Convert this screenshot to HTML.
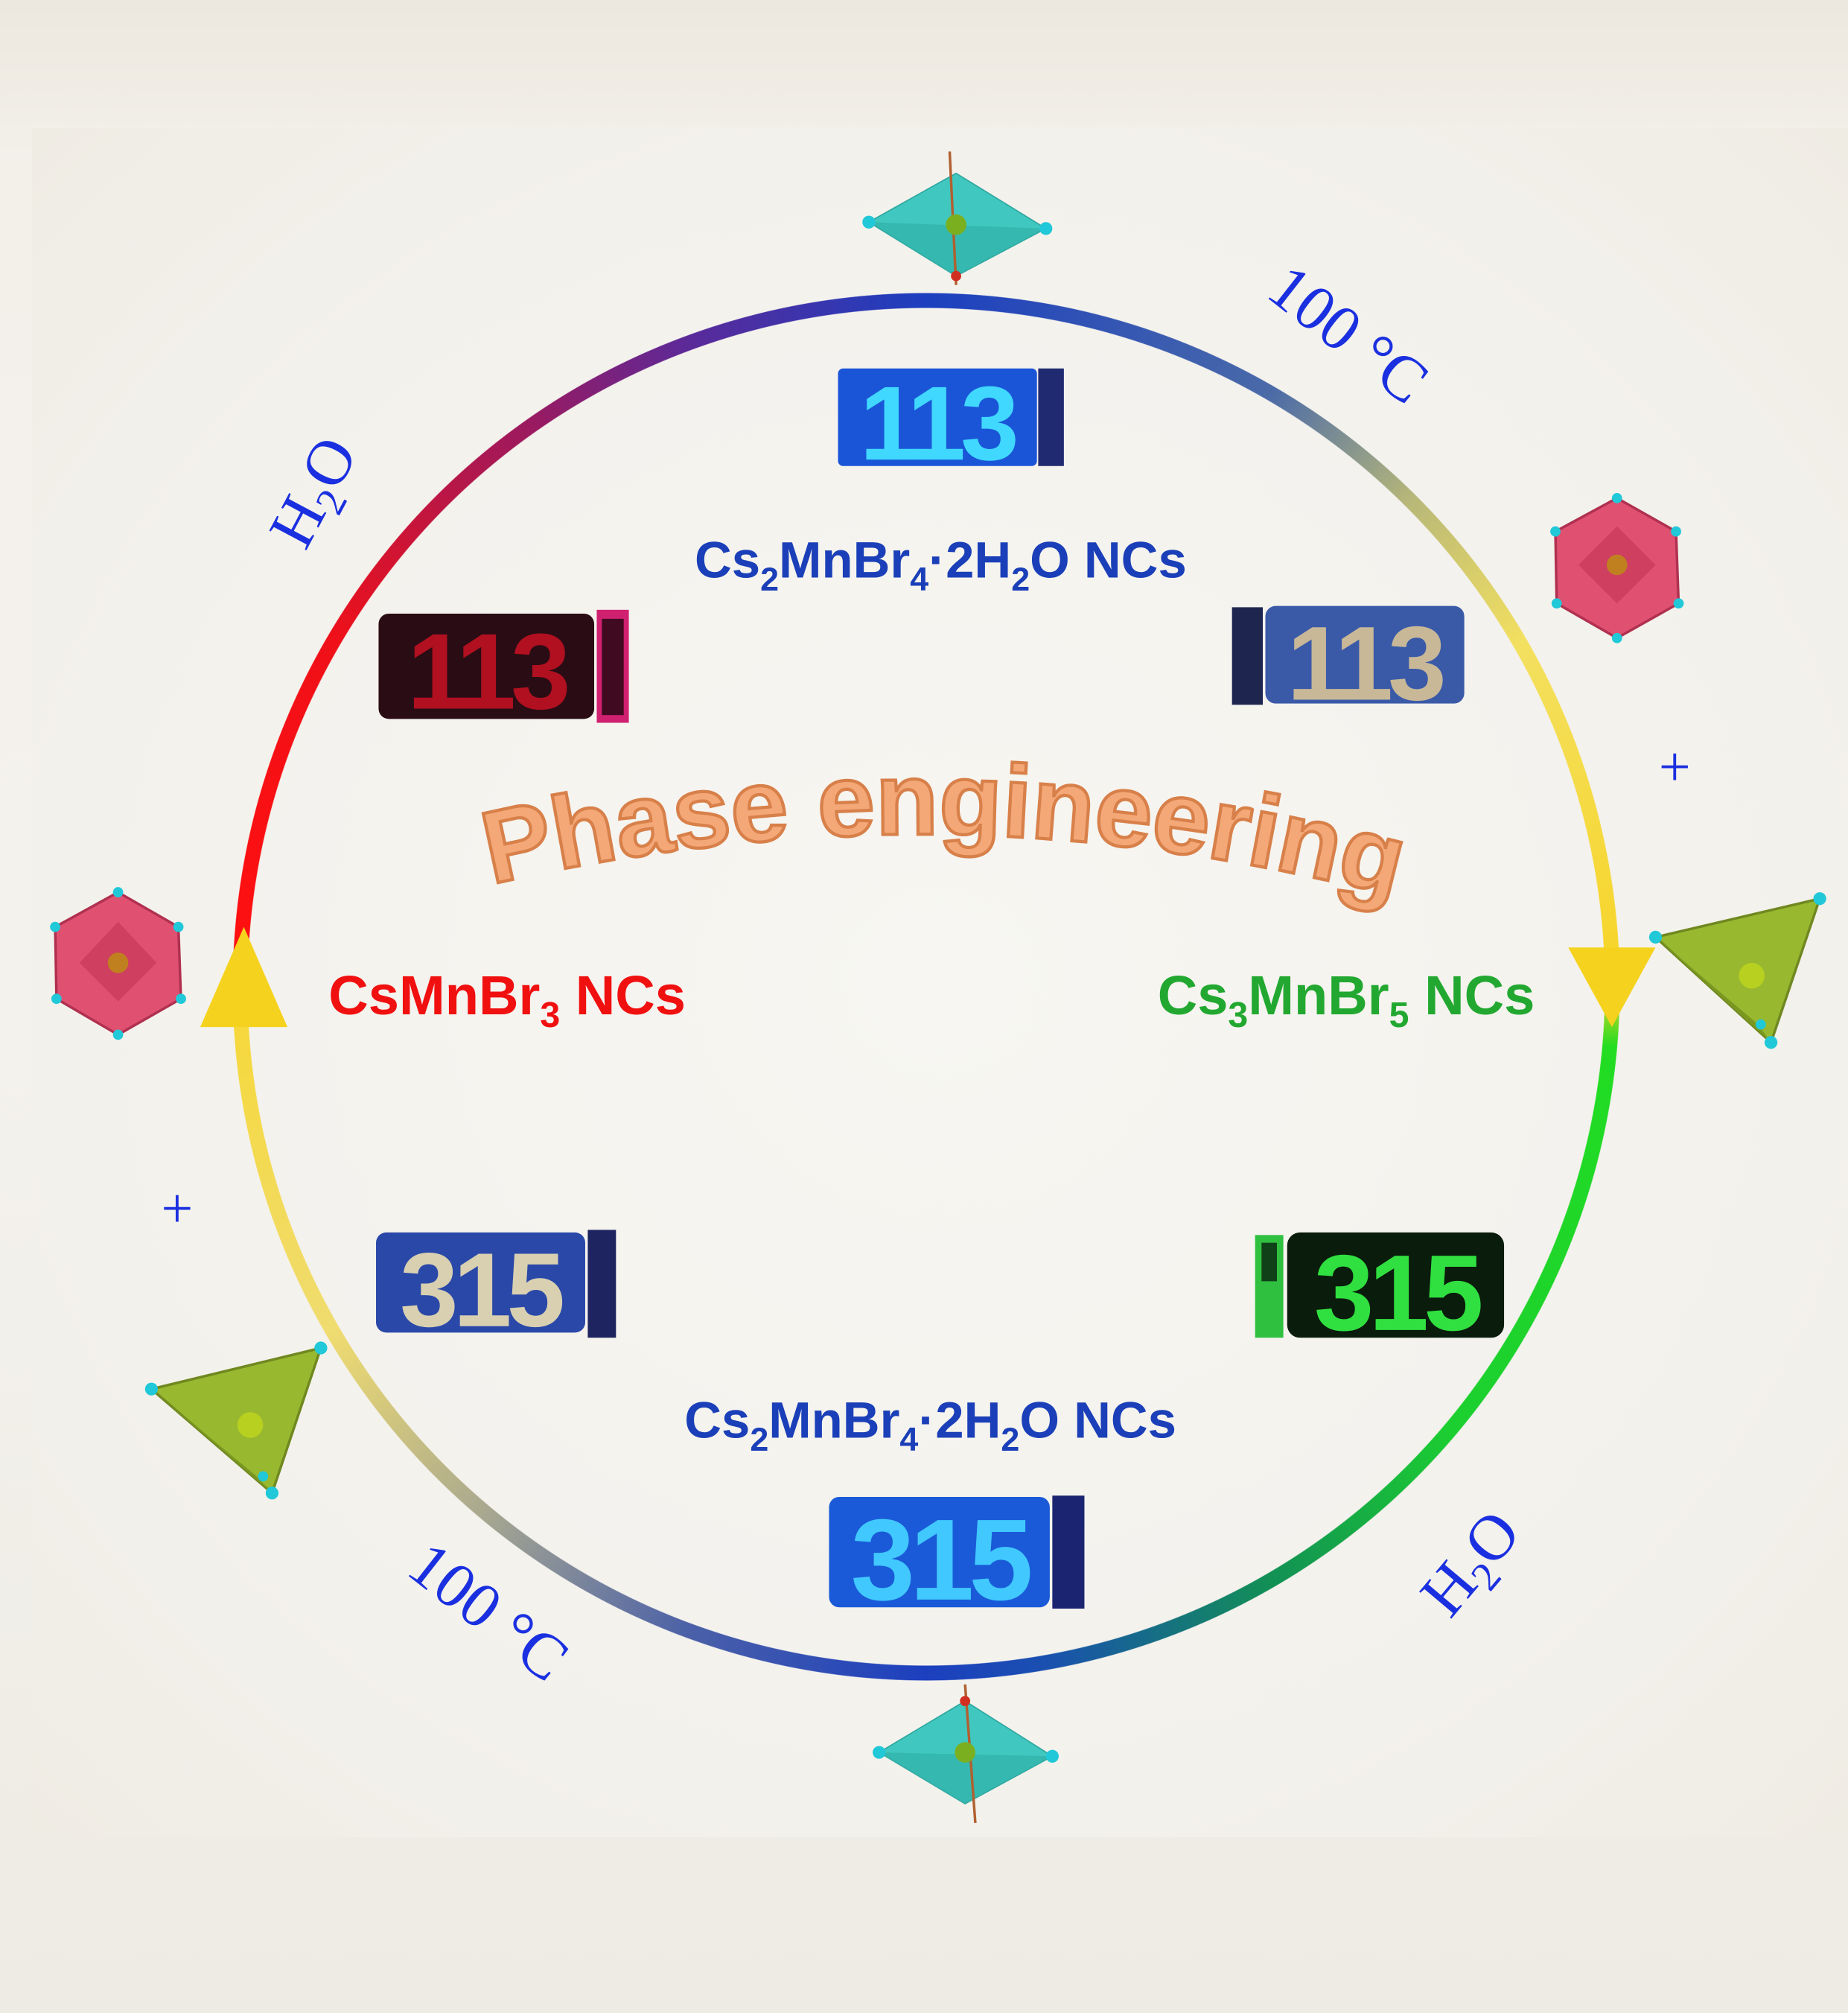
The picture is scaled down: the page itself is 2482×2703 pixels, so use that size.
<!DOCTYPE html>
<html><head><meta charset="utf-8"><style>
html,body{margin:0;padding:0}
body{width:2482px;height:2703px;position:relative;overflow:hidden;
background:linear-gradient(180deg,#ece8df 0%,#f3f0ea 8%,#f4f2ed 50%,#eeebe4 100%);}
#panel{position:absolute;left:43px;top:172px;width:2439px;height:2295px;
background:radial-gradient(ellipse at 50% 50%,#f7f6f2 0%,#f3f1ec 70%,#efece4 100%);}
#ring{position:absolute;left:312px;top:393px;width:1864px;height:1864px;border-radius:50%;
background:conic-gradient(from 0deg,#1c3fbf 0deg,#4a6aa8 30deg,#b8b878 45deg,#f3e060 60deg,#f7d426 90deg,#22dd22 95deg,#1ccf30 130deg,#129055 150deg,#1a50b0 170deg,#1c3fbf 180deg,#4a60a8 200deg,#a8a890 220deg,#f0dc70 240deg,#f6d83a 268deg,#ff1010 273deg,#f01018 300deg,#9a1a60 325deg,#5a2a9a 340deg,#1c3fbf 360deg);
-webkit-mask:radial-gradient(circle,transparent 911px,#000 912px,#000 931px,transparent 932px);
mask:radial-gradient(circle,transparent 911px,#000 912px,#000 931px,transparent 932px);}
svg{position:absolute;left:0;top:0}
</style></head><body>
<div id="panel"></div>
<div id="ring"></div>
<svg width="2482" height="2703" viewBox="0 0 1440 1568" preserveAspectRatio="none">
<polygon points="1222,738 1290,738 1256,800" fill="#f5d21e"/>
<polygon points="156,800 224,800 190,722" fill="#f5d21e"/>

<g font-family="Liberation Sans, sans-serif" font-weight="bold" text-anchor="middle">
<rect x="653" y="287" width="155" height="76" rx="4" fill="#1a55d8"/>
<text x="730" y="358" font-size="82" fill="#40d8ff" letter-spacing="-4">113</text>
<rect x="809" y="287" width="20" height="76" fill="#202a70"/>
<rect x="295" y="478" width="168" height="82" rx="8" fill="#2a0c14"/>
<text x="379" y="552" font-size="84" fill="#b01020" letter-spacing="-4">113</text>
<rect x="465" y="475" width="25" height="88" fill="#d02070"/>
<rect x="469" y="482" width="17" height="75" fill="#400a20"/>
<rect x="986" y="472" width="155" height="76" rx="8" fill="#3a5aa8"/>
<text x="1063" y="545" font-size="82" fill="#c8b898" letter-spacing="-4">113</text>
<rect x="960" y="473" width="24" height="76" fill="#1e2650"/>
<rect x="293" y="960" width="163" height="78" rx="8" fill="#2a48a8"/>
<text x="374" y="1033" font-size="82" fill="#d8d0b0" letter-spacing="-4">315</text>
<rect x="458" y="958" width="22" height="84" fill="#1e2460"/>
<rect x="1003" y="960" width="169" height="82" rx="10" fill="#0a1c0c"/>
<text x="1088" y="1036" font-size="84" fill="#30e040" letter-spacing="-4">315</text>
<rect x="978" y="962" width="22" height="80" fill="#30c040"/>
<rect x="983" y="968" width="12" height="30" fill="#104018"/>
<rect x="646" y="1166" width="172" height="86" rx="8" fill="#1a5ad8"/>
<text x="732" y="1246" font-size="90" fill="#40c8ff" letter-spacing="-4">315</text>
<rect x="820" y="1165" width="25" height="88" fill="#1a2470"/>
</g>

<g font-family="Liberation Sans, sans-serif" font-weight="bold" font-size="40">
<text x="733" y="450" text-anchor="middle" fill="#1a3fb8">Cs<tspan font-size="26" dy="10">2</tspan><tspan dy="-10">MnBr</tspan><tspan font-size="26" dy="10">4</tspan><tspan dy="-10">·2H</tspan><tspan font-size="26" dy="10">2</tspan><tspan dy="-10">O NCs</tspan></text>
<text x="725" y="1120" text-anchor="middle" fill="#1a3fb8">Cs<tspan font-size="26" dy="10">2</tspan><tspan dy="-10">MnBr</tspan><tspan font-size="26" dy="10">4</tspan><tspan dy="-10">·2H</tspan><tspan font-size="26" dy="10">2</tspan><tspan dy="-10">O NCs</tspan></text>
<text x="256" y="790" fill="#f01010" font-size="43">CsMnBr<tspan font-size="28" dy="10">3</tspan><tspan dy="-10"> NCs</tspan></text>
<text x="902" y="790" fill="#22a830" font-size="43">Cs<tspan font-size="28" dy="10">3</tspan><tspan dy="-10">MnBr</tspan><tspan font-size="28" dy="10">5</tspan><tspan dy="-10"> NCs</tspan></text>
</g>

<defs><path id="arc" d="M378,690 Q735,605 1092,700"/></defs>
<text font-family="Liberation Sans, sans-serif" font-weight="bold" font-size="80" fill="#f4a878" stroke="#d8804a" stroke-width="2.5"><textPath href="#arc" startOffset="50%" text-anchor="middle">Phase engineering</textPath></text>

<g font-family="Liberation Serif, serif" font-size="50" fill="#1a30e0">
<text transform="translate(985,230) rotate(38)">100 °C</text>
<text transform="translate(315,1225) rotate(38)">100 °C</text>
<text transform="translate(238,430) rotate(-62)">H<tspan font-size="32" dy="10">2</tspan><tspan dy="-10">O</tspan></text>
<text transform="translate(1130,1262) rotate(-50)">H<tspan font-size="32" dy="10">2</tspan><tspan dy="-10">O</tspan></text>
<text x="1305" y="612" font-size="44" text-anchor="middle">+</text>
<text x="138" y="956" font-size="44" text-anchor="middle">+</text>
</g>

<g>
<polygon points="677,173 745,135 815,178 745,215" fill="#40c8c0" stroke="#30a8a0"/>
<polygon points="677,173 745,215 815,178" fill="#30b0a8" opacity=".7"/>
<line x1="740" y1="118" x2="745" y2="222" stroke="#b06030" stroke-width="2"/>
<circle cx="745" cy="175" r="8" fill="#7ab020"/>
<circle cx="677" cy="173" r="5" fill="#20c8d8"/><circle cx="815" cy="178" r="5" fill="#20c8d8"/>
<circle cx="745" cy="215" r="4" fill="#d03020"/>
<polygon points="685,1365 752,1325 820,1368 752,1405" fill="#40c8c0" stroke="#30a8a0"/>
<polygon points="685,1365 752,1405 820,1368" fill="#30b0a8" opacity=".7"/>
<line x1="752" y1="1312" x2="760" y2="1420" stroke="#b06030" stroke-width="2"/>
<circle cx="752" cy="1365" r="8" fill="#7ab020"/>
<circle cx="685" cy="1365" r="5" fill="#20c8d8"/><circle cx="820" cy="1368" r="5" fill="#20c8d8"/>
<circle cx="752" cy="1325" r="4" fill="#d03020"/>
</g>
<g>
<polygon points="1260,388 1306,414 1308,470 1260,497 1213,470 1212,414" fill="#e05070" stroke="#b03050" stroke-width="2"/>
<polygon points="1260,410 1290,440 1260,470 1230,440" fill="#c83858" opacity=".7"/>
<circle cx="1260" cy="440" r="8" fill="#c08020"/>
<g fill="#20c8d8"><circle cx="1260" cy="388" r="4"/><circle cx="1306" cy="414" r="4"/><circle cx="1308" cy="470" r="4"/><circle cx="1260" cy="497" r="4"/><circle cx="1213" cy="470" r="4"/><circle cx="1212" cy="414" r="4"/></g>
<polygon points="92,695 139,722 141,778 92,806 44,778 43,722" fill="#e05070" stroke="#b03050" stroke-width="2"/>
<polygon points="92,718 122,750 92,780 62,750" fill="#c83858" opacity=".7"/>
<circle cx="92" cy="750" r="8" fill="#c08020"/>
<g fill="#20c8d8"><circle cx="92" cy="695" r="4"/><circle cx="139" cy="722" r="4"/><circle cx="141" cy="778" r="4"/><circle cx="92" cy="806" r="4"/><circle cx="44" cy="778" r="4"/><circle cx="43" cy="722" r="4"/></g>
</g>
<g>
<polygon points="1290,730 1418,700 1380,812" fill="#98b830" stroke="#708820" stroke-width="2"/>
<polygon points="1290,730 1370,798 1380,812" fill="#7a9820"/>
<circle cx="1365" cy="760" r="10" fill="#b8d020"/>
<g fill="#20c8d8"><circle cx="1290" cy="730" r="5"/><circle cx="1418" cy="700" r="5"/><circle cx="1380" cy="812" r="5"/><circle cx="1372" cy="798" r="4"/></g>
<polygon points="118,1082 250,1050 212,1163" fill="#98b830" stroke="#708820" stroke-width="2"/>
<polygon points="118,1082 200,1150 212,1163" fill="#7a9820"/>
<circle cx="195" cy="1110" r="10" fill="#b8d020"/>
<g fill="#20c8d8"><circle cx="118" cy="1082" r="5"/><circle cx="250" cy="1050" r="5"/><circle cx="212" cy="1163" r="5"/><circle cx="205" cy="1150" r="4"/></g>
</g>
</svg>
</body></html>
